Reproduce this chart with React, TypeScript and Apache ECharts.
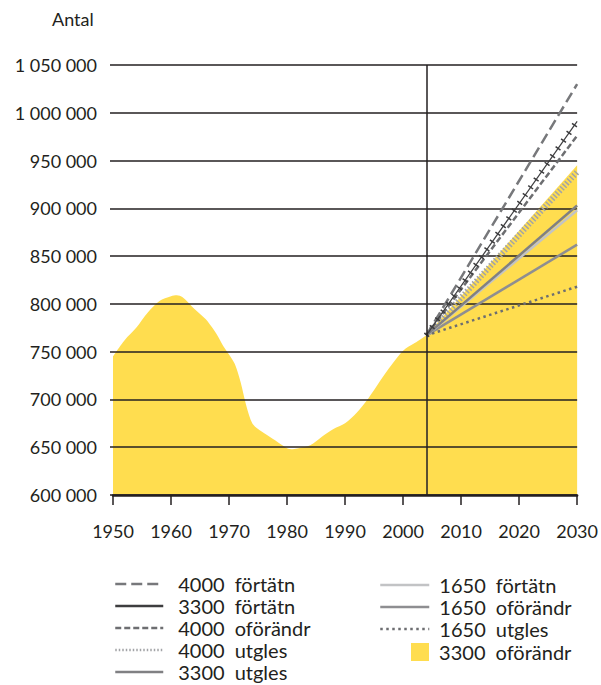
import React, { useEffect, useRef } from "react";
import * as echarts from "echarts";

const histYears = [1950, 1952, 1954, 1956, 1958, 1960, 1961, 1962, 1964, 1966, 1967, 1968, 1969, 1970, 1971, 1972, 1973, 1974, 1975, 1976, 1978, 1980, 1981, 1982, 1984, 1986, 1988, 1990, 1992, 1994, 1996, 1998, 2000, 2002, 2004];
const histValues = [745000, 762000, 775000, 791000, 803000, 808000, 809000, 807000, 795000, 784000, 776000, 767000, 756000, 747000, 737000, 718000, 693000, 675000, 669000, 665000, 657000, 649000, 648000, 649000, 652000, 661000, 669000, 675000, 686000, 701000, 719000, 736000, 751000, 759000, 767000];

const projYears = [2004, 2030];
const p4000Fortatn = [767000, 1030000];
const p3300Fortatn = [767000, 991000];
const p4000Oforandr = [767000, 976000];
const p4000Utgles = [767000, 938000];
const p3300Utgles = [767000, 903000];
const p1650Fortatn = [767000, 898000];
const p1650Oforandr = [767000, 862000];
const p1650Utgles = [767000, 818000];
const p3300Oforandr = [767000, 945000];

const splitYear = 2004;

const TEXT = "#231f20";
const YELLOW = "#ffdd4f";
const FONT = "Lato, sans-serif";

const pairs = (xs: number[], ys: number[]) => xs.map((x, i) => [x, ys[i]]);

const lineSeries = (name: string, values: number[], lineStyle: any, extra: any = {}) => ({
  type: "line",
  name,
  data: pairs(projYears, values),
  symbol: "none",
  lineStyle,
  itemStyle: { color: lineStyle.color },
  z: 3,
  ...extra,
});

const legendText = { fontSize: 20, fontFamily: FONT, color: TEXT, lineHeight: 20 };
const legendFmt = (prefix: string) => (name: string) => prefix + name.replace(" ", "\u2002");

export default function App() {
  const ref = useRef<HTMLDivElement>(null);
  useEffect(() => {
    const chart = echarts.init(ref.current!, null, { renderer: "svg" });
    const option: any = {
      animation: false,
      textStyle: { fontFamily: FONT, color: TEXT },
      grid: { left: 113, right: 18, top: 65, bottom: 190, containLabel: false },
      xAxis: {
        type: "value",
        min: 1950,
        max: 2030,
        interval: 10,
        z: 2,
        axisLine: { show: true, lineStyle: { color: TEXT, width: 2.5 } },
        axisTick: { show: true, length: 10, lineStyle: { color: TEXT, width: 1.5 } },
        axisLabel: {
          color: TEXT,
          fontSize: 18,
          fontFamily: FONT,
          margin: 27,
          showMinLabel: true,
          showMaxLabel: true,
          formatter: (v: number) => String(v),
        },
        splitLine: { show: false },
      },
      yAxis: {
        type: "value",
        min: 600000,
        max: 1050000,
        interval: 50000,
        z: 2,
        axisLine: { show: false },
        axisTick: { show: true, length: 3, lineStyle: { color: TEXT, width: 1.5 } },
        axisLabel: {
          color: TEXT,
          fontSize: 18,
          fontFamily: FONT,
          margin: 16,
          formatter: (v: number) => String(v).replace(/\B(?=(\d{3})+(?!\d))/g, " "),
        },
        splitLine: { show: true, lineStyle: { color: TEXT, width: 1.5 } },
      },
      graphic: [
        { type: "text", left: 52, top: 10, style: { text: "Antal", fontSize: 18, fontFamily: FONT, fill: TEXT } },
      ],
      legend: [
        {
          orient: "vertical",
          left: 114,
          top: 574,
          height: 160,
          padding: 0,
          itemWidth: 48,
          itemHeight: 14,
          itemGap: 2,
          data: ["4000 förtätn", "3300 förtätn", "4000 oförändr", "4000 utgles", "3300 utgles"],
          formatter: legendFmt("\u2002"),
          textStyle: legendText,
          itemStyle: { opacity: 0 },
          lineStyle: { width: 2.5 },
          selectedMode: false,
        },
        {
          orient: "vertical",
          left: 379,
          top: 575,
          height: 160,
          padding: 0,
          itemWidth: 49,
          itemHeight: 14,
          itemGap: 2,
          data: ["1650 förtätn", "1650 oförändr", "1650 utgles"],
          formatter: legendFmt(" "),
          textStyle: legendText,
          itemStyle: { opacity: 0 },
          lineStyle: { width: 2.5 },
          selectedMode: false,
        },
        {
          orient: "vertical",
          left: 411,
          top: 642,
          height: 60,
          padding: 0,
          itemWidth: 18,
          itemHeight: 18,
          icon: "rect",
          data: ["3300 oförändr"],
          formatter: legendFmt(" "),
          textStyle: legendText,
          selectedMode: false,
        },
      ],
      series: [
        {
          type: "line",
          name: "3300 oförändr",
          data: pairs(histYears, histValues),
          smooth: 0.3,
          symbol: "none",
          lineStyle: { width: 0, color: YELLOW },
          itemStyle: { color: YELLOW },
          areaStyle: { color: YELLOW, opacity: 1, origin: "start" },
          z: 1,
        },
        {
          type: "line",
          name: "3300 oförändr",
          data: pairs(projYears, p3300Oforandr),
          symbol: "none",
          lineStyle: { width: 0, color: YELLOW },
          itemStyle: { color: YELLOW },
          areaStyle: { color: YELLOW, opacity: 1, origin: "start" },
          z: 1,
        },
        lineSeries("4000 utgles", p4000Utgles, { color: "#a2a4a7", width: 6, type: [1.5, 2] }),
        lineSeries("1650 oförändr", p1650Oforandr, { color: "#8e8e91", width: 2.5, type: "solid" }),
        lineSeries("1650 förtätn", p1650Fortatn, { color: "#c2c3c5", width: 2.5, type: "solid" }),
        lineSeries("3300 utgles", p3300Utgles, { color: "#808083", width: 2.5, type: "solid" }),
        lineSeries("1650 utgles", p1650Utgles, { color: "#6d6e71", width: 2.5, type: [2.5, 3.5] }),
        lineSeries("4000 oförändr", p4000Oforandr, { color: "#6d6e71", width: 2.5, type: [6, 3] }),
        lineSeries("4000 förtätn", p4000Fortatn, { color: "#77787b", width: 2.5, type: [11, 5] }),
        lineSeries("3300 förtätn", p3300Fortatn, { color: "#3d3d3f", width: 1.2, type: "solid" }, {
          markLine: {
            silent: true,
            symbol: "none",
            label: { show: false },
            lineStyle: { color: TEXT, width: 1.5, type: "solid" },
            data: [{ xAxis: splitYear }],
          },
        }),
        lineSeries("3300 förtätn", p3300Fortatn, { color: "#3d3d3f", width: 6, type: [1.5, 8] }),
      ],
    };
    chart.setOption(option);
    return () => chart.dispose();
  }, []);
  return <div ref={ref} style={{ position: "absolute", left: 0, top: 0, width: 601, height: 685 }} />;
}
